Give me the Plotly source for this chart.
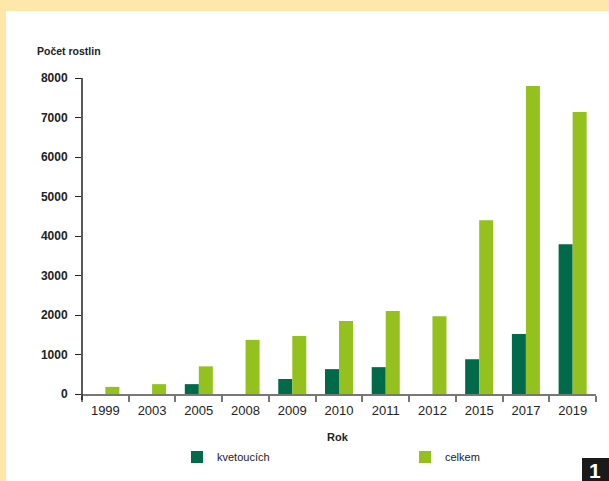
import plotly.graph_objects as go

roky = ["1999", "2003", "2005", "2008", "2009", "2010", "2011", "2012", "2015", "2017", "2019"]
kvetoucich = [None, None, 250, None, 380, 630, 680, None, 880, 1520, 3790]
celkem = [180, 250, 700, 1370, 1470, 1850, 2100, 1970, 4400, 7800, 7140]
y_ticks = [0, 1000, 2000, 3000, 4000, 5000, 6000, 7000, 8000]

DARK = "#016A4B"
LIGHT = "#95C11F"
YELLOW = "#FFE6A9"

W, H = 609, 481
L, R, T, B = 82, 13, 78, 87
pw, ph = W - L - R, H - T - B

def px(x):
    return (x - L) / pw

def py(y):
    return (H - B - y) / ph

fig = go.Figure()
fig.add_bar(x=roky, y=kvetoucich, name="kvetoucích", legend="legend",
            marker=dict(color=DARK, line=dict(width=0)))
fig.add_bar(x=roky, y=celkem, name="celkem", legend="legend2",
            marker=dict(color=LIGHT, line=dict(width=0)))

shapes = [
    # yellow frame along the top and left edge
    dict(type="rect", xref="paper", yref="paper", x0=px(0), x1=px(W), y0=py(11), y1=py(0),
         fillcolor=YELLOW, line=dict(width=0), layer="below"),
    dict(type="rect", xref="paper", yref="paper", x0=px(0), x1=px(6), y0=py(H), y1=py(0),
         fillcolor=YELLOW, line=dict(width=0), layer="below"),
    # y axis line, continuing a little below the x axis
    dict(type="line", xref="paper", yref="paper", x0=0, x1=0, y0=py(400), y1=1,
         line=dict(color="#222", width=1.5)),
    # black figure number box
    dict(type="rect", xref="paper", yref="paper", x0=px(582), x1=px(W), y0=py(H), y1=py(458),
         fillcolor="#1a1a1a", line=dict(width=0)),
]

annotations = [
    dict(text="<b>Počet rostlin</b>", xref="paper", yref="paper", x=px(35), y=py(51),
         xanchor="left", yanchor="middle", showarrow=False,
         font=dict(family="Liberation Sans", size=10.5, color="#222")),
    dict(text="<b>Rok</b>", xref="paper", yref="paper", x=px(338), y=py(437),
         xanchor="center", yanchor="middle", showarrow=False,
         font=dict(family="Liberation Sans", size=11, color="#222")),
    dict(text="<b>1</b>", xref="paper", yref="paper", x=px(595), y=py(470),
         xanchor="center", yanchor="middle", showarrow=False,
         font=dict(family="Liberation Sans", size=21, color="white")),
]

legend_style = dict(orientation="h", yanchor="middle", itemwidth=30,
                    font=dict(family="Liberation Sans", size=11, color="#222"),
                    bgcolor="rgba(0,0,0,0)")

fig.update_layout(
    width=W, height=H,
    margin=dict(l=L, r=R, t=T, b=B, pad=0, autoexpand=False),
    paper_bgcolor="white", plot_bgcolor="white",
    barmode="group", bargap=0.4, bargroupgap=0,
    font=dict(family="Liberation Sans", size=12, color="#222"),
    shapes=shapes, annotations=annotations,
    showlegend=True,
    legend=dict(x=px(177), y=py(457), xanchor="left", **legend_style),
    legend2=dict(x=px(405), y=py(457), xanchor="left", **legend_style),
)

fig.update_xaxes(
    type="category", categoryorder="array", categoryarray=roky,
    showline=True, linecolor="#777", linewidth=1.5,
    ticks="outside", tickson="boundaries", ticklen=6, tickcolor="#777", tickwidth=1.5,
    ticklabelstandoff=4,
    showgrid=False, zeroline=False,
    tickfont=dict(family="Liberation Sans", size=13, color="#222"),
)
fig.update_yaxes(
    range=[0, 8000], tickvals=y_ticks, ticktext=[f"<b>{v}</b>" for v in y_ticks],
    showline=False,
    ticks="outside", ticklen=6, tickcolor="#222", tickwidth=1,
    ticklabelstandoff=5,
    showgrid=False, zeroline=False,
    tickfont=dict(family="Liberation Sans", size=12, color="#222"),
)

fig.write_html("out.html")
